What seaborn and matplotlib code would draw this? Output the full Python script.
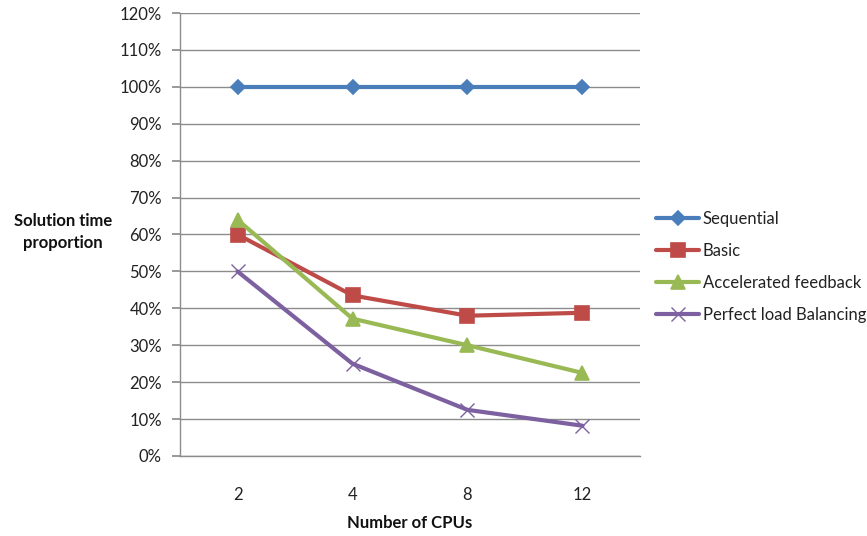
import matplotlib
matplotlib.use("Agg")
import matplotlib.pyplot as plt
import seaborn as sns
import pandas as pd
from matplotlib.ticker import FuncFormatter, MultipleLocator

cpus = ["2", "4", "8", "12"]
sequential = [1.00, 1.00, 1.00, 1.00]
basic = [0.60, 0.435, 0.38, 0.388]
accelerated = [0.64, 0.372, 0.30, 0.225]
perfect = [0.50, 0.25, 0.125, 0.082]
series_names = ["Sequential", "Basic", "Accelerated feedback", "Perfect load Balancing"]

rows = []
for name, vals in zip(series_names, [sequential, basic, accelerated, perfect]):
    for i, (c, v) in enumerate(zip(cpus, vals)):
        rows.append({"cpu": i, "label": c, "value": v, "series": name})
df = pd.DataFrame(rows)

sns.set_theme(style="white")
plt.rcParams["font.family"] = ["Lato", "DejaVu Sans"]

fig = plt.figure(figsize=(8.67, 5.36), dpi=100)
ax = fig.add_axes([180/867, 1 - 456/536, 460/867, (456-13)/536])

palette = {"Sequential": "#4a7ebb", "Basic": "#be4b48", "Accelerated feedback": "#98b954", "Perfect load Balancing": "#7d60a0"}
markers = {"Sequential": "D", "Basic": "s", "Accelerated feedback": "^", "Perfect load Balancing": "x"}
sizes = {"Sequential": 7, "Basic": 10, "Accelerated feedback": 10, "Perfect load Balancing": 10}

for name in series_names:
    sub = df[df.series == name]
    sns.lineplot(data=sub, x="cpu", y="value", ax=ax, color=palette[name], linewidth=3,
                 marker=markers[name], markersize=sizes[name], markeredgecolor=palette[name],
                 markeredgewidth=1.2 if name != "Perfect load Balancing" else 1.0,
                 label=name, zorder=3)

ax.set_xlim(-0.5, 3.5)
ax.set_ylim(0, 1.2)
ax.yaxis.set_major_locator(MultipleLocator(0.1))
ax.yaxis.set_major_formatter(FuncFormatter(lambda v, p: f"{v*100:.0f}%"))
ax.set_xticks(range(len(cpus)))
ax.set_xticklabels(cpus)
ax.grid(axis="y", color="#8c8c8c", linewidth=1)
ax.set_axisbelow(True)
for s in ["top", "right"]:
    ax.spines[s].set_visible(False)
for s in ["left", "bottom"]:
    ax.spines[s].set_color("#8c8c8c")
    ax.spines[s].set_linewidth(1)
ax.tick_params(axis="y", which="major", left=True, length=6, color="#8c8c8c", labelsize=12, pad=7, labelcolor="#222222")
ax.tick_params(axis="x", bottom=False, labelsize=12, pad=16, labelcolor="#222222")
ax.set_xlabel("")
ax.set_ylabel("")
fig.text(410/867, 1 - 523/536, "Number of CPUs", ha="center", va="center",
         fontsize=12, fontweight="bold", color="#111111")
fig.text(63/867, 1 - 232/536, "Solution time\nproportion", ha="center", va="center",
         fontsize=12, fontweight="bold", color="#111111", linespacing=1.5)

leg = ax.legend(loc="center left", bbox_to_anchor=(1.02, 1 - (267-13)/443), frameon=False, fontsize=12,
                handlelength=2.6, handletextpad=0.2, labelspacing=0.95, borderaxespad=0)
for t in leg.get_texts():
    t.set_color("#222222")

fig.savefig("out.png", dpi=100, facecolor="white")
